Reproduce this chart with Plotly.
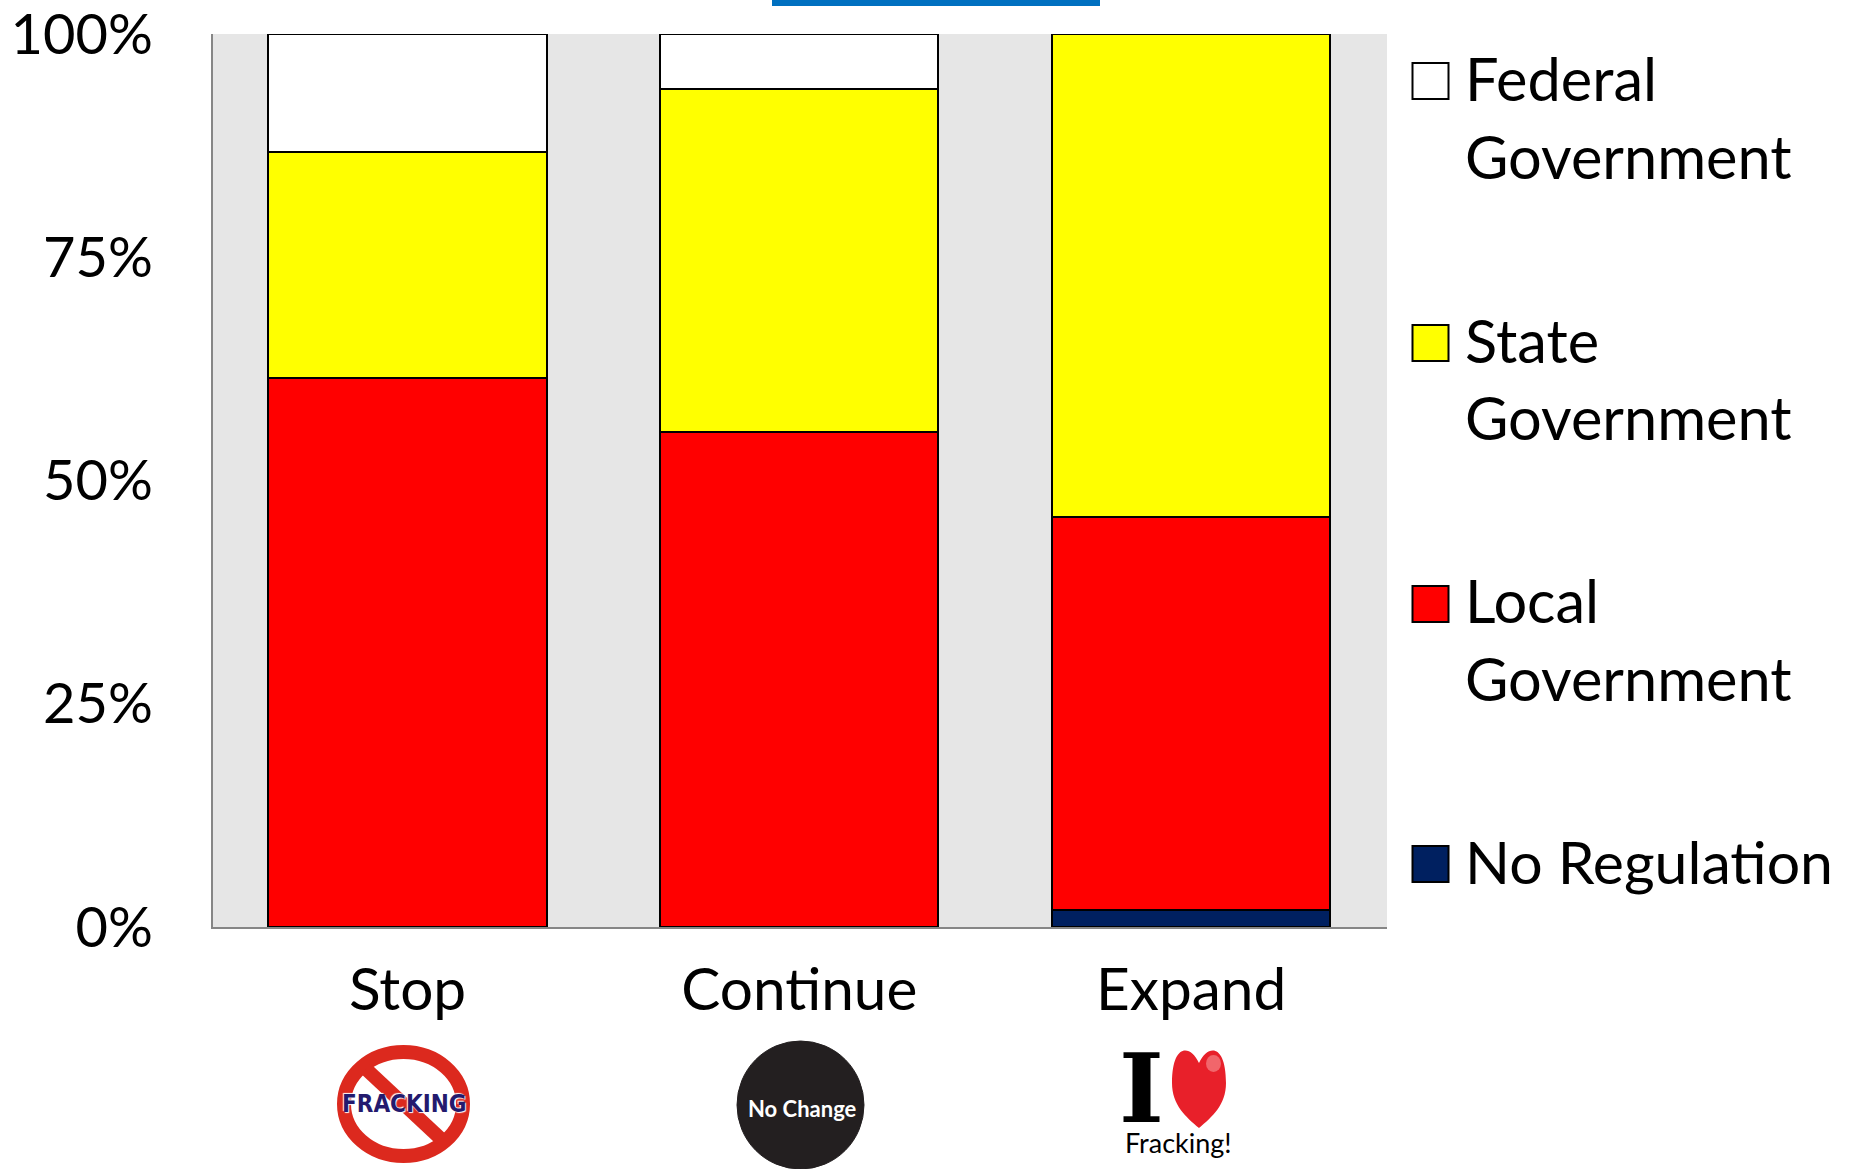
import plotly.graph_objects as go

categories = ["Stop", "Continue", "Expand"]
no_regulation = [0, 0, 1.9]
local_gov = [61.5, 55.4, 44.0]
state_gov = [25.3, 38.4, 54.1]
federal_gov = [13.2, 6.2, 0]
y_ticks = [0, 25, 50, 75, 100]
y_labels = ["0%", "25%", "50%", "75%", "100%"]

FONT = "Lato, Carlito, Calibri, sans-serif"
FS = 59.5
L, R, T, B = 213, 1387, 34, 927


def px(x):
    return (x - L) / (R - L)


def py(y):
    return (B - y) / (B - T)


fig = go.Figure()
for name, vals, col in [
    ("No Regulation", no_regulation, "#002060"),
    ("Local Government", local_gov, "#FF0000"),
    ("State Government", state_gov, "#FFFF00"),
    ("Federal Government", federal_gov, "#FFFFFF"),
]:
    fig.add_bar(x=categories, y=vals, name=name, marker=dict(color=col, line=dict(color="#000000", width=2)), width=0.71)

shapes = []
annots = []


def rect(x0, y0, x1, y1, fill, line="#000000", w=2, kind="rect", opacity=1):
    shapes.append(dict(type=kind, xref="paper", yref="paper", x0=px(x0), x1=px(x1), y0=py(y0), y1=py(y1),
                       fillcolor=fill, line=dict(color=line, width=w), layer="above", opacity=opacity))


def text(x, y, s, size, color="#000000", anchor="left", family=FONT, shadow=None):
    f = dict(family=family, size=size, color=color)
    if shadow:
        f["shadow"] = shadow
    annots.append(dict(xref="paper", yref="paper", x=px(x), y=py(y), text=s, showarrow=False, xanchor=anchor,
                       yanchor="middle", font=f))


# legend
legend_rows = [
    (63, "#FFFFFF", ["Federal", "Government"], [78, 156]),
    (325, "#FFFF00", ["State", "Government"], [340, 417]),
    (586, "#FF0000", ["Local", "Government"], [600, 678]),
    (846, "#002060", ["No Regulation"], [861]),
]
for top, col, lines, ys in legend_rows:
    rect(1412.5, top, 1448.5, top + 36, col)
    for s, y in zip(lines, ys):
        text(1463, y, s, FS if s != "No Regulation" else 59)

# top accent
rect(772, 0, 1100, 6, "#0070C0", line="rgba(0,0,0,0)", w=0)

# icon: stop
rect(344, 1052, 463, 1156, "#FFFFFF", line="#DC291E", w=14, kind="circle")
shapes.append(dict(type="line", xref="paper", yref="paper", x0=px(366), y0=py(1069), x1=px(441), y1=py(1139),
                   line=dict(color="#DC291E", width=14), layer="above"))
text(404, 1104, "<b>FRACKING</b>", 24, color="#241A6E", anchor="center", family="DejaVu Sans Condensed, Liberation Sans",
     shadow="1px 1px 1px #FFFFFF, -1px -1px 1px #FFFFFF")

# icon: no change
rect(737, 1041, 864, 1169, "#231F20", line="#231F20", w=1, kind="circle")
text(802, 1108, "<b>No Change</b>", 22, color="#FFFFFF", anchor="center", family="Lato")

# icon: I love fracking
text(1141, 1088, "<b>I</b>", 96, anchor="center", family="DejaVu Serif")
hx = [1199, 1190, 1172, 1172, 1172, 1186, 1199, 1212, 1226, 1226, 1226, 1208, 1199]
hy = [1063, 1044, 1044, 1083, 1105, 1117, 1128, 1117, 1105, 1083, 1044, 1044, 1063]
pts = [f"{px(a):.5f},{py(b):.5f}" for a, b in zip(hx, hy)]
path = "M" + pts[0]
for i in range(1, len(pts), 3):
    path += " C" + " ".join(pts[i:i + 3])
path += " Z"
shapes.append(dict(type="path", xref="paper", yref="paper", path=path, fillcolor="#E8202A",
                   line=dict(color="#E8202A", width=0), layer="above"))
rect(1206, 1055, 1221, 1072, "#F8A0A0", line="rgba(0,0,0,0)", w=0, kind="circle", opacity=0.55)
text(1178, 1142, "Fracking!", 27, anchor="center", family="Lato")

fig.update_layout(
    width=1851, height=1169, barmode="stack", showlegend=False, bargap=0.29,
    margin=dict(l=L, r=1851 - R, t=T, b=1169 - B, autoexpand=False),
    paper_bgcolor="#FFFFFF", plot_bgcolor="#E6E6E6",
    font=dict(family=FONT, size=FS, color="#000000"),
    shapes=shapes, annotations=annots,
    xaxis=dict(range=[-0.4964, 2.5], showgrid=False, ticks="", showline=True, linecolor="#868686", linewidth=2,
               ticklabelstandoff=11, tickfont=dict(size=58.5), automargin=False),
    yaxis=dict(range=[0, 100], tickvals=y_ticks, ticktext=y_labels, showgrid=False, ticks="", showline=True,
               linecolor="#868686", linewidth=2, ticklabelstandoff=47, ticklabeloverflow="allow",
               tickfont=dict(size=56), zeroline=False, automargin=False),
)
fig.write_html("out.html", config=dict(displayModeBar=False),
               post_script="document.body.style.margin='0';document.body.style.overflow='hidden';")
